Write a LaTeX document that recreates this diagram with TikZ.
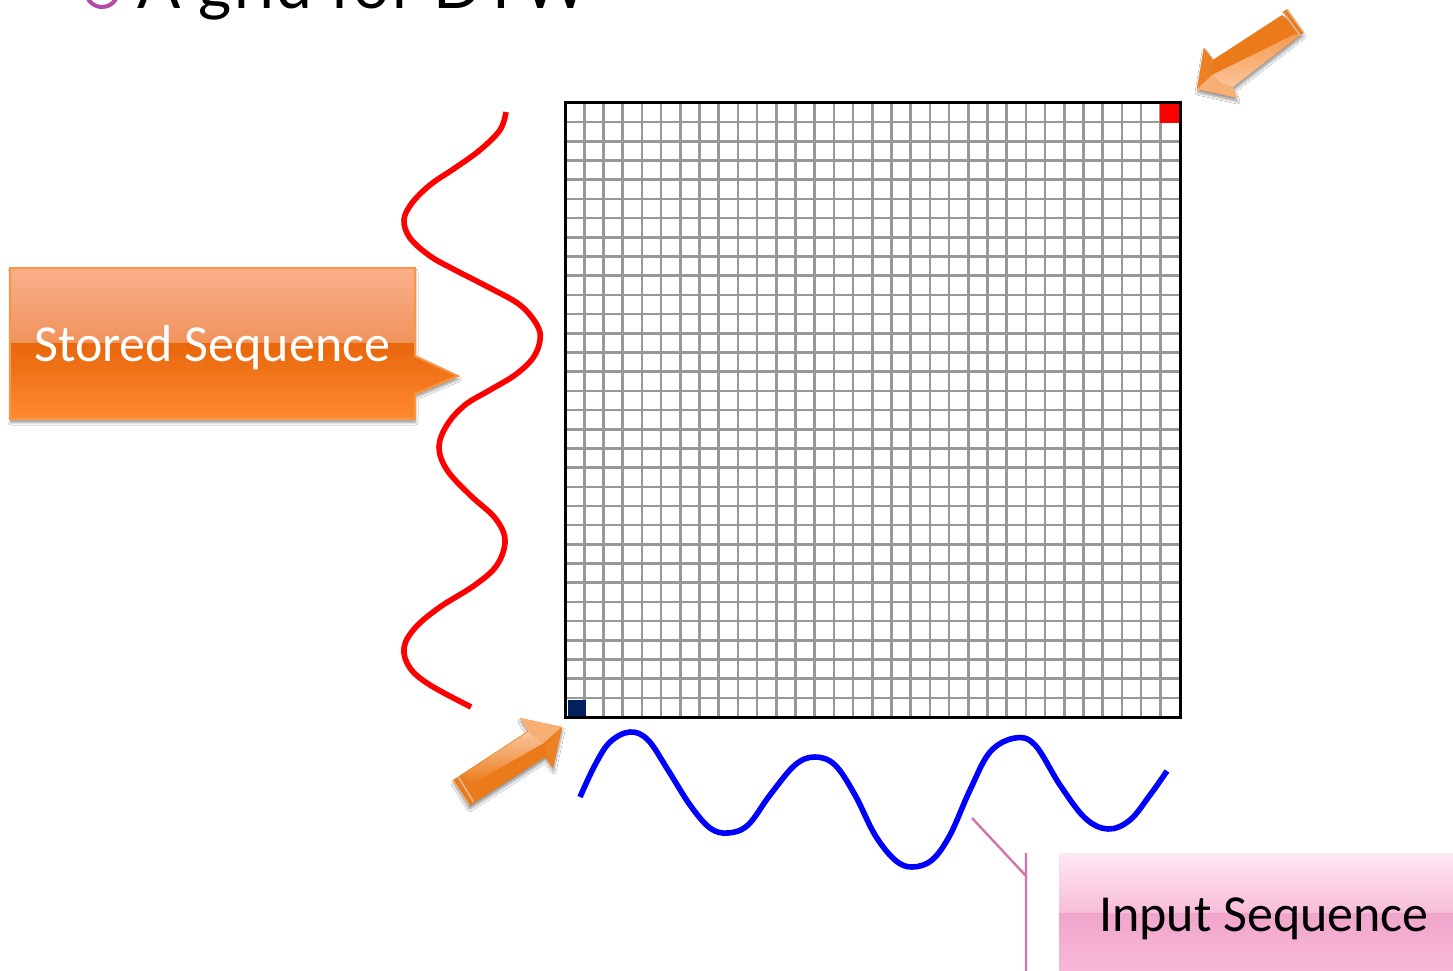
\documentclass[tikz,border=0pt]{standalone}
\usepackage{fontspec}
\setmainfont{Carlito}
\newfontfamily\headfont[LetterSpace=3]{Lato}
\usetikzlibrary{shadows.blur}
\definecolor{arrowD}{HTML}{EA7A1A}
\definecolor{arrowM}{HTML}{F59A4E}
\definecolor{arrowL}{HTML}{FBC49A}
\definecolor{arrowT}{HTML}{DDB696}
\definecolor{gridgray}{HTML}{989898}
\definecolor{navycell}{HTML}{002060}
\definecolor{leader}{HTML}{D673AC}
\definecolor{ringc}{HTML}{B54AA6}
\definecolor{orA}{HTML}{FAB08C}
\definecolor{orB}{HTML}{F0935C}
\definecolor{orC}{HTML}{E8660C}
\definecolor{orD}{HTML}{FF8A2E}
\definecolor{orE}{HTML}{F79646}
\definecolor{piA}{HTML}{FDE8F2}
\definecolor{piB}{HTML}{F8BDD8}
\definecolor{piC}{HTML}{F0A6CB}
\definecolor{piD}{HTML}{F8B8D8}
\tikzset{
  x=1pt,y=-1pt,
  seq/.style={line width=5.6pt,line cap=butt,line join=round},
  softshadow/.style={blur shadow={shadow xshift=0.5pt,shadow yshift=-3.5pt,shadow blur steps=6,shadow blur radius=2.5pt,shadow opacity=40}},
  facet/.style={shading=axis,shading angle=#1},
  lbl/.style={inner sep=0pt,anchor=base west,font=\fontsize{52}{52}\selectfont},
}
\begin{document}
\begin{tikzpicture}
\path[use as bounding box,fill=white] (0,0) rectangle (1453,971);
\clip (0,0) rectangle (1453,971);
% heading
\draw[color=ringc,line width=4pt] (102,-9) circle (16);
\node[inner sep=0pt,anchor=base west,font=\headfont\fontsize{64}{64}\selectfont] (head) at (137,9) {A grid for DTW};
% grid
\draw[gridgray,line width=2.6pt]
  \foreach \i in {1,...,31} {
    ({565+\i*19.2},103) -- ({565+\i*19.2},717)
    (565,{103+\i*19.19}) -- (1180,{103+\i*19.19})
  };
\fill[navycell] (568,700) rectangle (586,716);
\fill[red] (1160,104) rectangle (1179,123);
\draw[black,line width=3pt] (565,103) rectangle (1180,717);
% stored curve
\draw[red,seq] plot[smooth,tension=0.6] coordinates {
 (506,112) (500,130) (480,150) (455,168) (430,185) (412,203) (404,220) (410,238) (430,256) (455,270) (490,288) (520,305) (537,325) (540,340) (533,358) (515,375) (490,390) (465,405) (447,425) (439,447) (447,470) (470,495) (495,518) (505,540) (497,565) (475,585) (440,607) (415,628) (404,648) (410,668) (430,685) (471,707)};
% input curve
\draw[blue,seq] plot[smooth,tension=0.6] coordinates {
 (580,797) (595,765) (610,742) (630,732) (648,740) (668,770) (690,805) (710,828) (728,833) (748,825) (770,795) (795,765) (815,757) (835,765) (855,795) (875,835) (895,860) (912,867) (932,860) (950,835) (970,790) (990,752) (1015,738) (1035,745) (1060,785) (1085,818) (1108,829) (1130,820) (1150,795) (1167,771)};
% stored callout
\path[softshadow,fill=orC] (10,268) -- (415,268) -- (415,356) -- (458,376) -- (415,394) -- (415,419) -- (10,419) -- cycle;
\shade[top color=orA,bottom color=orB] (10,268) rectangle (415,343);
\shade[top color=orC,bottom color=orD] (10,343) -- (415,343) -- (415,356) -- (458,376) -- (415,394) -- (415,419) -- (10,419) -- cycle;
\draw[orE,line width=2pt,line join=miter] (10,268) -- (415,268) -- (415,356) -- (458,376) -- (415,394) -- (415,419) -- (10,419) -- cycle;
\node[lbl,text=white] (stored) at (34,361) {Stored Sequence};
% input callout
\coordinate (leadA) at (972,818);
\coordinate (leadB) at (1026,876);
\coordinate (leadC) at (1026,853);
\coordinate (leadD) at (1026,971);
\draw[leader,line width=2.4pt] (leadA) -- (leadB) (leadC) -- (leadD);
\shade[top color=piA,bottom color=piB] (1059,853) rectangle (1453,913);
\shade[top color=piC,bottom color=piD] (1059,913) rectangle (1453,971);
\node[lbl,text=black] (input) at (1099,931) {Input Sequence};
% top right arrow
\path[softshadow,fill=arrowD] (1197,89) -- (1204,48) -- (1213,60) -- (1282,15) -- (1303,33) -- (1233,87) -- (1237,98) -- cycle;
\shade[facet=33,top color=arrowD,middle color=arrowM!60!arrowL,bottom color=arrowD] (1213,60) -- (1280,17) -- (1293,35) -- (1212,75) -- cycle;
\shade[facet=33,top color=arrowM,bottom color=arrowL] (1212,75) -- (1293,35) -- (1303,33) -- (1233,87) -- (1220,83) -- cycle;
\fill[arrowD!80!arrowM] (1197,89) -- (1204,48) -- (1213,60) -- (1212,75) -- cycle;
\fill[arrowM!50!arrowL] (1197,89) -- (1212,75) -- (1220,83) -- (1233,87) -- (1237,98) -- cycle;
\fill[arrowD] (1282.7,11.7) -- (1287,9.3) -- (1304,33) -- (1300,35) -- cycle;
\draw[arrowT,line width=1.6pt] (1282.7,11.7) -- (1300,35) (1287,9.3) -- (1304,33);
% bottom left arrow
\path[softshadow,fill=arrowD] (562,727) -- (520,718) -- (528,731) -- (453,780) -- (469,806) -- (545,757) -- (553,768) -- cycle;
\shade[facet=33,top color=arrowL,bottom color=arrowD] (461.7,775) -- (528.3,731.7) -- (543.3,743.3) -- (470,785) -- cycle;
\shade[facet=33,top color=arrowD,middle color=arrowM,bottom color=arrowD] (473.3,788.3) -- (546.7,745) -- (545,756.7) -- (476.7,800) -- cycle;
\fill[arrowM!50!arrowL] (520,718) -- (562,727) -- (543.3,743.3) -- (528.3,731.7) -- cycle;
\fill[arrowD!80!arrowM] (562,727) -- (553,768) -- (545,756.7) -- (546.7,745) -- cycle;
\draw[arrowT,line width=1.6pt] (452.7,780) -- (469.3,805.7) (458.3,776.7) -- (473.3,801.7);
\end{tikzpicture}
\end{document}
